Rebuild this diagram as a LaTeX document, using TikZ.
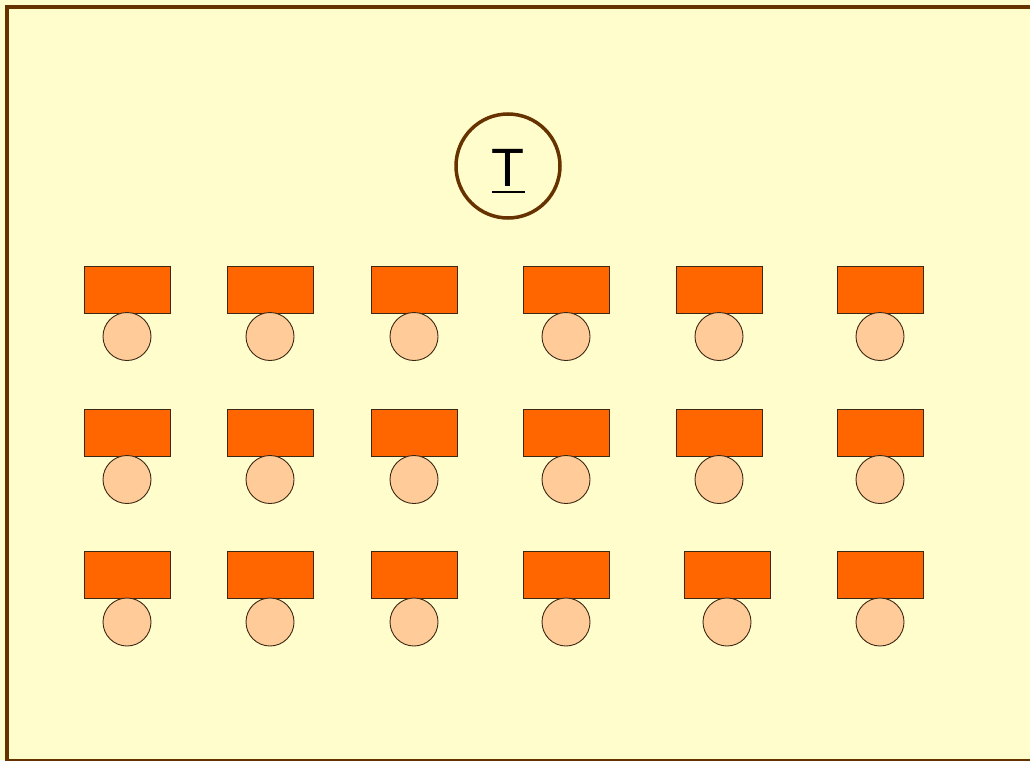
\documentclass[tikz,border=0pt]{standalone}
\usepackage{fontspec}
\setmainfont{Liberation Sans}
\definecolor{bg}{RGB}{255,253,204}
\definecolor{frame}{RGB}{102,51,0}
\definecolor{desk}{RGB}{255,102,0}
\definecolor{seat}{RGB}{255,204,153}
\definecolor{edge}{RGB}{60,40,20}
\tikzset{
  deskbox/.style={draw=edge, fill=desk, line width=0.9pt, minimum width=86pt, minimum height=47pt, inner sep=0pt, outer sep=0pt},
  seatcirc/.style={circle, draw=edge, fill=seat, line width=0.9pt, minimum size=48pt, inner sep=0pt, outer sep=0pt, anchor=north},
  teacher/.style={circle, draw=frame, fill=bg, line width=3.5pt, minimum size=104pt, inner sep=0pt}
}
\begin{document}
\begin{tikzpicture}[x=1pt,y=-1pt]
\useasboundingbox (0,0) rectangle (1030,760);
\fill[bg] (0,0) rectangle (1030,760);
\begin{scope}
\clip (0,0) rectangle (1030,760);
\draw[frame, line width=4pt] (7,7) rectangle (1045,761);
\end{scope}
\node[teacher] (T) at (508,166) {};
\node[font=\fontsize{54}{60}\selectfont, inner sep=0pt, anchor=base] (Tlabel) at (508,186) {T};
\coordinate (ulL) at (492,192);
\coordinate (ulR) at (525,192);
\draw[black, line width=2pt] (ulL) -- (ulR);
% desks and seats
\foreach \r/\y in {1/289.5, 2/432.5, 3/575} {
  \foreach \c/\x in {1/127, 2/270, 3/414, 4/566, 6/880} {
    \node[deskbox] (t\r\c) at (\x,\y) {};
    \node[seatcirc] (c\r\c) at ([yshift=0.5pt]t\r\c.south) {};
  }
}
\foreach \r/\y/\x in {1/289.5/719, 2/432.5/719, 3/575/727} {
  \node[deskbox] (t\r5) at (\x,\y) {};
  \node[seatcirc] (c\r5) at ([yshift=0.5pt]t\r5.south) {};
}
\end{tikzpicture}
\end{document}
